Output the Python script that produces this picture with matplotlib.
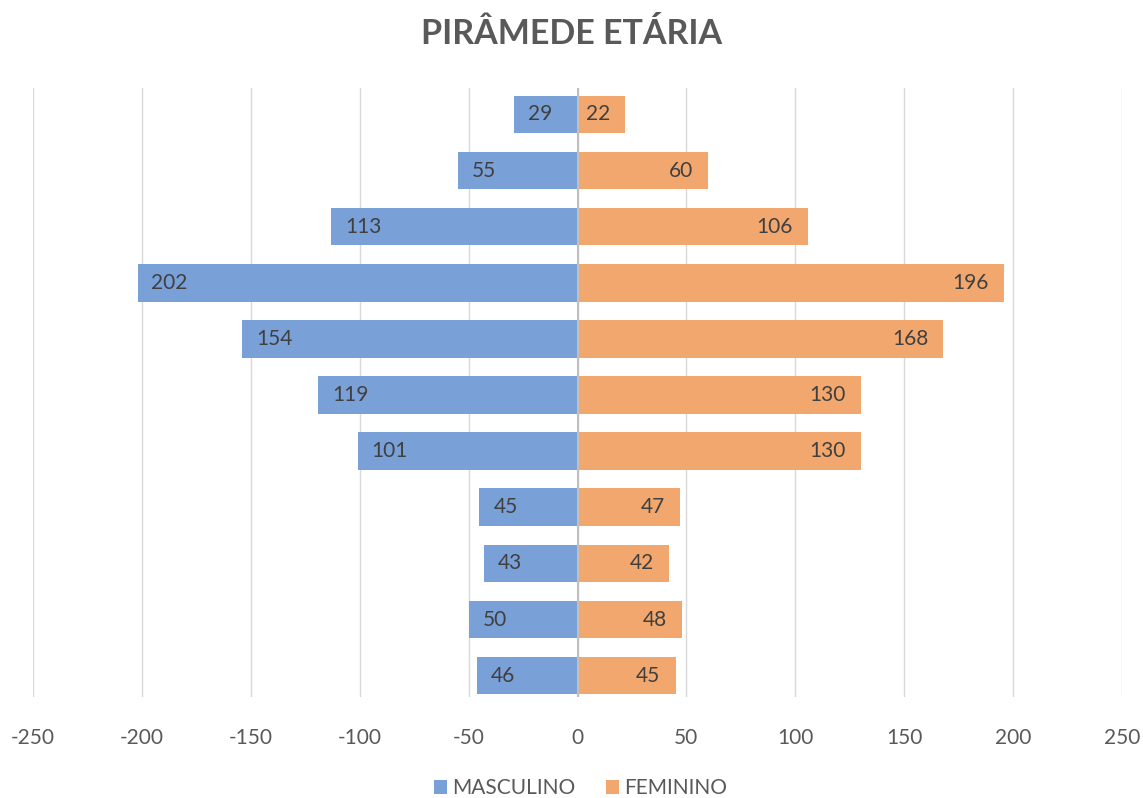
import numpy as np
import matplotlib.pyplot as plt

plt.rcParams['font.family'] = ['Lato', 'DejaVu Sans']

masculino = [29, 55, 113, 202, 154, 119, 101, 45, 43, 50, 46]
feminino = [22, 60, 106, 196, 168, 130, 130, 47, 42, 48, 45]
ticks = [-250, -200, -150, -100, -50, 0, 50, 100, 150, 200, 250]

blue = "#7AA0D8"
orange = "#F1A76E"
text_col = "#404040"
grey = "#595959"

fig = plt.figure(figsize=(11.43, 7.98), dpi=100)
ax = fig.add_axes([0.0289, 0.1266, 0.9527, 0.7631])

y = np.arange(len(masculino))
ax.barh(y, -np.array(masculino), height=0.67, color=blue, label="MASCULINO", zorder=2)
ax.barh(y, feminino, height=0.67, color=orange, label="FEMININO", zorder=2)

for yi, m, f in zip(y, masculino, feminino):
    ax.annotate(str(m), (-m, yi), xytext=(10, 0), textcoords="offset points",
                ha="left", va="center", fontsize=15, color=text_col, zorder=4)
    ax.annotate(str(f), (f, yi), xytext=(-11, 0), textcoords="offset points",
                ha="right", va="center", fontsize=15, color=text_col, zorder=4)

ax.axvline(0, color="#BFBFBF", lw=1.5, zorder=3)
ax.set_xlim(-250, 250)
ax.set_ylim(10.38, -0.47)
ax.set_xticks(ticks)
ax.set_xticklabels([str(t) for t in ticks])
ax.set_yticks([])
ax.grid(axis="x", color="#D9D9D9", lw=1, zorder=0)
ax.tick_params(axis="x", length=0, pad=22, labelsize=15, labelcolor=grey)
for s in ax.spines.values():
    s.set_visible(False)

fig.text(0.5, 0.958, "PIRÂMEDE ETÁRIA", ha="center", va="center",
         fontsize=24.5, fontweight="bold", color=grey)

fig.legend(loc="center", bbox_to_anchor=(0.508, 0.012), ncol=2, frameon=False,
           fontsize=15, labelcolor=grey, handlelength=0.6, handleheight=0.6,
           handletextpad=0.25, columnspacing=1.5)

fig.savefig("out.png", dpi=100)
